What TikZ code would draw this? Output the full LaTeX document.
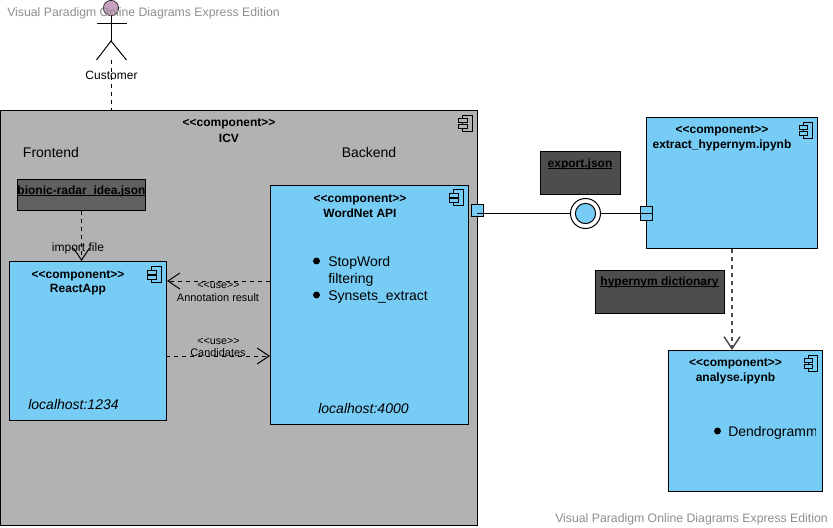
\documentclass[tikz,border=0pt]{standalone}
\usepackage{fontspec}
\setmainfont{Liberation Sans}
\usetikzlibrary{arrows.meta}
\newcommand{\fileline}[1]{\setbox0=\hbox{#1}\rlap{\copy0}\rule[-1.2pt]{\wd0}{0.6pt}}
\definecolor{compblue}{HTML}{77CCF5}
\definecolor{icvgray}{HTML}{B2B2B2}
\definecolor{filedark}{HTML}{606060}
\definecolor{notedark}{HTML}{4D4D4D}
\definecolor{actorpink}{HTML}{C8A0C0}
\definecolor{markgray}{HTML}{8E8E8E}
\tikzset{
    boxsize/.style 2 args={minimum width=#1*0.75pt, minimum height=#2*0.75pt, anchor=north west, inner sep=0pt},
    compbox/.style={draw, fill=compblue, line width=0.75pt},
    filebox/.style={draw, line width=0.75pt},
    stereo/.style={font=\fontsize{9}{10}\selectfont\bfseries, inner sep=0pt},
    plain/.style={font=\fontsize{10.5}{12}\selectfont, inner sep=0pt},
    small/.style={font=\fontsize{9}{10}\selectfont, inner sep=0pt},
    tiny/.style={font=\fontsize{8.2}{9}\selectfont, inner sep=0pt},
    usetext/.style={font=\fontsize{8}{9}\selectfont, inner sep=0pt},
    watermark/.style={font=\fontsize{9.2}{10}\selectfont, text=markgray, inner sep=0pt},
    bullet/.style={circle, fill=black, minimum size=5.2pt, inner sep=0pt},
    port/.style={draw, fill=compblue, minimum size=9.2pt, inner sep=0pt, line width=0.75pt},
    dep/.style={dashed, line width=0.75pt, -{Straight Barb[length=9pt, width=12pt]}},
    pics/compicon/.style={code={
        \draw[line width=0.75pt] (-9.5,0) rectangle (0,16);
        \draw[line width=0.75pt, fill=#1] (-13.5,3.5) rectangle (-5,7.5);
        \draw[line width=0.75pt, fill=#1] (-13.5,9) rectangle (-5,13);
    }}
}
\begin{document}
\begin{tikzpicture}[x=0.75pt, y=-0.75pt]
    \useasboundingbox (0, 0) rectangle (833, 528);

    % ICV container
    \node[compbox, fill=icvgray, boxsize={477}{414}] (icv) at (0, 110.5) {};
    \node[stereo] (icvtype) at (229, 124) {<{}<component>{}>};
    \node[stereo] (icvname) at (229, 138) {ICV};
    \pic at (472, 115.5) {compicon=icvgray};
    \node[plain] (frontend) at (51, 152.5) {Frontend};
    \node[plain] (backend) at (369, 152.5) {Backend};

    % Customer
    \node[circle, draw, fill=actorpink, minimum size=11.5pt, inner sep=0pt] (head) at (111, 8) {};
    \coordinate (hip) at (111, 41);
    \coordinate (armleft) at (96.5, 24);
    \coordinate (armright) at (126.5, 24);
    \coordinate (footleft) at (96.5, 60);
    \coordinate (footright) at (126.5, 60);
    \coordinate (foot) at (111, 60);
    \draw[line width=0.75pt] (head) -- (hip);
    \draw[line width=0.75pt] (armleft) -- (armright);
    \draw[line width=0.75pt] (footleft) -- (hip) -- (footright);
    \draw[dashed, line width=0.75pt] (foot) -- (foot |- icv.north);
    \node[small] (customer) at (111.5, 75.5) {Customer};

    % ReactApp
    \node[compbox, boxsize={157}{159}] (react) at (9, 261) {};
    \node[stereo] (reacttype) at (78, 275.5) {<{}<component>{}>};
    \node[stereo] (reactname) at (78, 289.5) {ReactApp};
    \pic at (161, 266.5) {compicon=compblue};
    \node[plain, font=\fontsize{10.5}{12}\selectfont\itshape] (reacthost) at (73.5, 404.5) {localhost:1234};

    % WordNet API
    \node[compbox, boxsize={198}{239}] (wordnet) at (270, 185) {};
    \node[stereo] (wordnettype) at (360, 199.5) {<{}<component>{}>};
    \node[stereo] (wordnetname) at (360, 213.5) {WordNet API};
    \pic at (463, 190) {compicon=compblue};
    \node[bullet] (dotstop) at (316.5, 261) {};
    \node[plain, anchor=west] (stopword) at (328, 263) {StopWord};
    \node[plain, anchor=west] (filtering) at (328, 280) {filtering};
    \node[bullet] (dotsyn) at (316.5, 295) {};
    \node[plain, anchor=west] (synsets) at (328, 297) {Synsets\_extract};
    \node[plain, font=\fontsize{10.5}{12}\selectfont\itshape] (wordnethost) at (363.5, 408.5) {localhost:4000};

    % bionic file
    \node[filebox, fill=filedark, boxsize={128}{31}] (bionic) at (17, 179) {};
    \node[stereo] (bionicname) at (81.5, 191) {\fileline{bionic-radar\_idea.json}};
    \draw[dep] (bionic.south) -- (bionic.south |- react.north);
    \node[small] (importfile) at (78, 248.5) {import file};

    % use arrows
    \coordinate (annotstart) at (270, 281);
    \coordinate (candstart) at (166, 356);
    \draw[dep] (annotstart) -- (annotstart -| react.east);
    \draw[dep] (candstart) -- (candstart -| wordnet.west);
    \node[usetext] (usea) at (218.5, 285) {<{}<use>{}>};
    \node[tiny] (annot) at (218, 298) {Annotation result};
    \node[usetext] (useb) at (218.5, 341) {<{}<use>{}>};
    \node[tiny] (cand) at (218, 353) {Candidates};

    % extract_hypernym
    \node[compbox, boxsize={171}{131}] (extract) at (646, 117) {};
    \node[stereo] (extracttype) at (722, 131) {<{}<component>{}>};
    \node[stereo] (extractname) at (722, 145) {extract\_hypernym.ipynb};
    \pic at (812.5, 122.5) {compicon=compblue};

    % ports and ball
    \node[port] (portleft) at (477.5, 210.5) {};
    \node[port, minimum height=10pt] (portright) at (646.5, 213.5) {};
    \coordinate (lineleft) at (477, 213.5);
    \coordinate (lineright) at (652, 213.5);
    \draw[line width=0.75pt] (lineleft) -- (lineright);
    \node[circle, draw, fill=white, minimum size=22.5pt, inner sep=0pt, line width=0.75pt] (ball) at (585.5, 213.5) {};
    \node[circle, draw, fill=compblue, minimum size=15.2pt, inner sep=0pt, line width=0.75pt] (ballin) at (ball) {};

    % export file
    \node[filebox, fill=notedark, boxsize={80}{43}] (export) at (540, 151) {};
    \node[stereo] (exportname) at (580, 164) {\fileline{export.json}};

    % hypernym file
    \node[filebox, fill=notedark, boxsize={129}{43}] (hypernym) at (595, 270) {};
    \node[stereo] (hypernymname) at (659.5, 282.5) {\fileline{hypernym dictionary}};

    % analyse
    \node[compbox, boxsize={154}{141}] (analyse) at (668, 350) {};
    \node[stereo] (analysetype) at (735.5, 364) {<{}<component>{}>};
    \node[stereo] (analysename) at (735.5, 378) {analyse.ipynb};
    \pic at (817.5, 355) {compicon=compblue};
    \node[bullet] (dotden) at (717.5, 431) {};
    \begin{scope}
        \clip (720, 420) rectangle (815.5, 446);
        \node[plain, anchor=west] (dendro) at (728, 433) {Dendrogramm};
    \end{scope}
    \draw[dep, line width=1.1pt, draw=black!70] (extract.south) -- (extract.south |- analyse.north);

    % watermarks
    \node[watermark, anchor=west] (marktop) at (7, 13) {Visual Paradigm Online Diagrams Express Edition};
    \node[watermark, anchor=west] (markbottom) at (555, 519) {Visual Paradigm Online Diagrams Express Edition};
\end{tikzpicture}
\end{document}
